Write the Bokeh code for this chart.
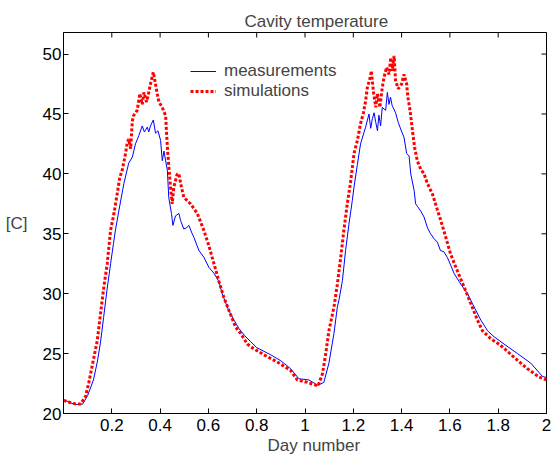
import math
from bokeh.plotting import figure
from bokeh.models import Range1d, FixedTicker, Legend, LegendItem, Title
from bokeh.embed import file_html
from bokeh.resources import INLINE

# ---- data ----
meas_x = [0.0, 0.02, 0.04, 0.06, 0.08, 0.10, 0.124, 0.14, 0.153, 0.166, 0.18, 0.195, 0.207, 0.215,
          0.229, 0.25, 0.27, 0.285, 0.298, 0.312, 0.326, 0.335, 0.347, 0.353, 0.36, 0.372, 0.381,
          0.391, 0.402, 0.409, 0.416, 0.43, 0.436, 0.447, 0.453, 0.464, 0.478, 0.485, 0.498, 0.51,
          0.519, 0.533, 0.54, 0.561, 0.581, 0.602, 0.623, 0.644, 0.657, 0.678, 0.692, 0.706, 0.726,
          0.75, 0.775, 0.80, 0.858, 0.9, 0.94, 0.975, 1.016, 1.054, 1.078, 1.099, 1.12, 1.134,
          1.141, 1.155, 1.168, 1.182, 1.196, 1.203, 1.217, 1.23, 1.251, 1.265, 1.272, 1.279, 1.286,
          1.293, 1.30, 1.306, 1.313, 1.32, 1.334, 1.341, 1.348, 1.354, 1.361, 1.375, 1.386, 1.396,
          1.41, 1.421, 1.431, 1.438, 1.452, 1.458, 1.465, 1.479, 1.493, 1.507, 1.52, 1.534, 1.548,
          1.561, 1.575, 1.59, 1.603, 1.617, 1.645, 1.673, 1.70, 1.728, 1.756, 1.783, 1.824, 1.88,
          1.935, 1.983, 2.0]
meas_y = [21.1, 21.0, 20.8, 20.75, 20.8, 21.5, 22.8, 24.3, 25.9, 28.0, 30.3, 32.5, 34.2, 35.3,
          36.9, 39.2, 40.9, 41.4, 42.5, 43.2, 44.0, 43.5, 43.9, 43.5, 44.0, 44.5, 43.4,
          43.6, 42.8, 41.1, 41.9, 40.3, 38.0, 36.7, 35.7, 36.5, 36.7, 36.1, 35.4, 35.5,
          35.7, 35.0, 34.7, 33.6, 33.05, 32.2, 31.7, 31.0, 30.0, 28.9, 28.3, 27.8, 27.1,
          26.5, 26.0, 25.5, 24.9, 24.4, 23.75, 22.9, 22.8, 22.35, 22.6, 24.2, 26.7, 28.9,
          29.5, 31.1, 33.6, 35.8, 37.8, 38.9, 40.8, 42.5, 43.9, 45.0, 43.8, 44.6, 45.1,
          44.3, 43.6, 44.9, 44.0, 45.55, 45.3, 46.8, 45.8, 46.4, 45.7, 45.1, 44.3, 43.75,
          43.05, 41.7, 41.5, 40.0, 38.6, 37.5, 37.3, 36.9, 36.4, 35.5, 35.0, 34.6, 34.3,
          33.6, 33.5, 33.0, 32.4, 31.7, 30.8, 30.0, 28.9, 27.8, 26.9, 26.4, 25.8, 25.0,
          24.2, 23.1, 23.0]

sim_x = [0.0, 0.03, 0.05, 0.07, 0.091, 0.105, 0.126, 0.14, 0.153, 0.167, 0.181, 0.195, 0.209,
         0.222, 0.233, 0.243, 0.257, 0.264, 0.27, 0.278, 0.285, 0.29, 0.305, 0.316, 0.326, 0.333,
         0.344, 0.353, 0.36, 0.372, 0.381, 0.388, 0.395, 0.409, 0.423, 0.427, 0.432, 0.443, 0.45,
         0.457, 0.471, 0.478, 0.485, 0.498, 0.526, 0.554, 0.581, 0.602, 0.623, 0.644, 0.664,
         0.685, 0.713, 0.733, 0.761, 0.788, 0.83, 0.885, 0.94, 0.968, 1.01, 1.054, 1.072, 1.086,
         1.099, 1.12, 1.134, 1.148, 1.161, 1.175, 1.188, 1.203, 1.217, 1.23, 1.242, 1.251, 1.258,
         1.27, 1.275, 1.283, 1.293, 1.30, 1.31, 1.32, 1.327, 1.338, 1.348, 1.355, 1.361, 1.369,
         1.375, 1.386, 1.40, 1.41, 1.421, 1.426, 1.435, 1.445, 1.454, 1.465, 1.479, 1.493, 1.507,
         1.528, 1.548, 1.561, 1.583, 1.603, 1.631, 1.659, 1.686, 1.714, 1.735, 1.769, 1.81,
         1.865, 1.92, 1.969, 2.0]
sim_y = [21.1, 20.9, 20.8, 20.8, 21.4, 22.6, 24.7, 26.1, 28.3, 30.55, 32.5, 35.3, 36.7,
         38.3, 39.7, 40.3, 41.7, 42.6, 42.9, 42.1, 44.4, 44.85, 45.3, 46.7, 45.8, 46.8,
         46.0, 46.8, 47.5, 48.5, 47.5, 46.7, 46.0, 45.55, 44.85, 43.3, 41.7, 38.9, 37.5,
         38.9, 40.0, 40.0, 39.2, 38.05, 37.5, 36.7, 35.3, 34.0, 32.5, 31.0, 29.7,
         28.6, 27.2, 26.7, 25.8, 25.4, 24.9, 24.3, 23.6, 22.8, 22.6, 22.3, 23.3, 25.0,
         26.9, 28.9, 30.8, 33.05, 35.3, 37.5, 39.2, 41.7, 42.8, 44.2, 45.1, 46.1, 47.2,
         48.05, 48.6, 46.9, 45.55, 46.7, 45.55, 47.2, 48.05, 48.9, 48.3, 49.7, 48.6, 49.85,
         47.8, 47.1, 47.5, 48.3, 47.5, 46.4, 45.3, 43.6, 42.2, 41.1, 40.4, 40.0, 39.2,
         38.3, 37.0, 36.2, 34.7, 33.3, 31.9, 30.55, 29.2, 27.8, 26.9, 26.25, 25.7,
         24.7, 23.75, 23.05, 22.8]

x_ticks = [0.2, 0.4, 0.6, 0.8, 1.0, 1.2, 1.4, 1.6, 1.8, 2.0]
x_tick_labels = ["0.2", "0.4", "0.6", "0.8", "1", "1.2", "1.4", "1.6", "1.8", "2"]
y_ticks = [20, 25, 30, 35, 40, 45, 50]
x_lim = (0.0, 2.0)
y_lim = (20.0, 51.8)

title_text = "Cavity temperature"
x_label = "Day number"
y_label = "[C]"
series_names = ["measurements", "simulations"]

FONT = "Liberation Sans"
FS = "17px"

p = figure(width=551, height=461, output_backend="svg", toolbar_location=None,
           x_range=Range1d(*x_lim), y_range=Range1d(*y_lim),
           min_border_left=63, min_border_right=5, min_border_top=32, min_border_bottom=48)
p.background_fill_color = "white"
p.border_fill_color = "white"
p.outline_line_color = "black"
p.outline_line_width = 1
p.grid.visible = False

p.title.text = title_text
p.title.text_font = FONT
p.title.text_font_size = FS
p.title.text_font_style = "normal"
p.title.align = "left"
p.title.offset = 181
p.title.standoff = 4

def style_axis(ax):
    ax.axis_line_color = "black"
    ax.major_tick_line_color = "black"
    ax.major_tick_in = 5
    ax.major_tick_out = 0
    ax.minor_tick_line_color = None
    ax.major_label_text_font = FONT
    ax.major_label_text_font_size = FS
    ax.major_label_text_color = "black"

xa = p.xaxis[0]
style_axis(xa)
xa.ticker = FixedTicker(ticks=x_ticks)
xa.major_label_overrides = {t: l for t, l in zip(x_ticks, x_tick_labels)}
xa.major_label_standoff = 5

ya = p.yaxis[0]
style_axis(ya)
ya.ticker = FixedTicker(ticks=y_ticks)
ya.major_label_standoff = 2
ya.axis_label = y_label
ya.axis_label_text_font = FONT
ya.axis_label_text_font_size = FS
ya.axis_label_text_font_style = "normal"
ya.axis_label_standoff = 12
try:
    ya.axis_label_orientation = "horizontal"
except Exception:
    pass

# inward tick marks on the top and right edges of the box
p.ray(x=x_ticks, y=[y_lim[1]] * len(x_ticks), length=5, length_units="screen",
      angle=-math.pi / 2, line_color="black", line_width=1)
p.ray(x=[x_lim[1]] * len(y_ticks), y=y_ticks, length=5, length_units="screen",
      angle=math.pi, line_color="black", line_width=1)

xl = Title(text=x_label, align="left", offset=204, text_font=FONT, text_font_size=FS,
           text_font_style="normal", standoff=0)
p.add_layout(xl, "below")

r1 = p.line(meas_x, meas_y, line_color="#0000ff", line_width=1)
r2 = p.line(sim_x, sim_y, line_color="#ff0000", line_width=3, line_dash="3 2")

legend = Legend(items=[LegendItem(label=series_names[0], renderers=[r1]),
                       LegendItem(label=series_names[1], renderers=[r2])],
                location=(127, 312), orientation="vertical")
legend.background_fill_alpha = 0
legend.border_line_color = None
legend.padding = 0
legend.margin = 0
legend.spacing = 0
legend.glyph_width = 26
legend.glyph_height = 18
legend.label_height = 18
legend.label_standoff = 8
legend.label_text_font = FONT
legend.label_text_font_size = FS
p.add_layout(legend, "center")

open("out.html", "w").write(file_html(p, INLINE))
